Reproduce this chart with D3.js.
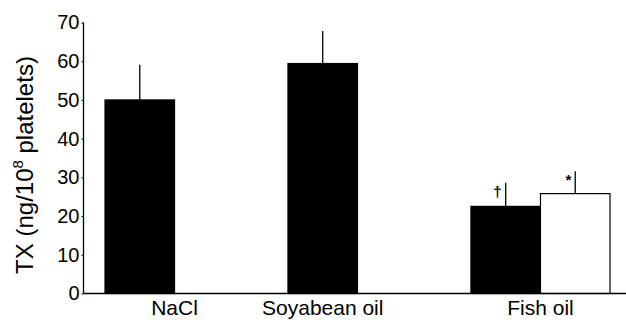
<!DOCTYPE html>
<html>
<head>
<meta charset="utf-8">
<script src="https://cdn.jsdelivr.net/npm/d3@7/dist/d3.min.js"></script>
<style>
  html, body { margin: 0; padding: 0; background: #fff; }
  svg { display: block; font-family: "Liberation Sans", Arial, Helvetica, sans-serif; }
</style>
</head>
<body>
<svg id="chart" width="626" height="320"></svg>
<script>
// Treatment groups shown along the x axis
const groups = ["NaCl", "Soyabean oil", "Fish oil"];
// One entry per bar: its group, its slot within the group, mean TX and upper error
const barGroups = ["NaCl", "Soyabean oil", "Fish oil", "Fish oil"];
const barSlots = ["first", "first", "first", "second"];
const barValues = [50, 59.4, 22.5, 25.8];
const barErrors = [9.1, 8.4, 6.1, 5.8];
const barMarks = ["", "", "\u2020", "*"];
const barFilled = [true, true, true, false];
// Y axis ticks
const yTicks = [0, 10, 20, 30, 40, 50, 60, 70];

const svg = d3.select("#chart");

const plot = { left: 83.5, right: 626, top: 22.5, bottom: 293.5 };

const y = d3.scaleLinear().domain([0, 70]).range([plot.bottom, plot.top]);

const x = d3.scaleBand()
  .domain(groups)
  .range([105, 610])
  .paddingInner(0.24)
  .paddingOuter(0);

const xSlot = d3.scaleBand()
  .domain(["first", "second"])
  .range([0, x.bandwidth()]);

const bars = barValues.map((v, i) => ({
  group: barGroups[i], slot: barSlots[i], value: v,
  err: barErrors[i], mark: barMarks[i], filled: barFilled[i]
}));

const barCenter = d => x(d.group) + xSlot(d.slot) + xSlot.bandwidth() / 2;

// Bars
svg.append("g").selectAll("rect")
  .data(bars)
  .join("rect")
  .attr("x", d => x(d.group) + xSlot(d.slot))
  .attr("y", d => y(d.value))
  .attr("width", xSlot.bandwidth())
  .attr("height", d => y(0) - y(d.value))
  .attr("fill", d => d.filled ? "#000" : "#fff")
  .attr("stroke", "#000")
  .attr("stroke-width", 1.2);

// Upper error lines
svg.append("g").selectAll("line")
  .data(bars)
  .join("line")
  .attr("x1", barCenter)
  .attr("x2", barCenter)
  .attr("y1", d => y(d.value))
  .attr("y2", d => y(d.value + d.err))
  .attr("stroke", "#000")
  .attr("stroke-width", 1.3);

// Significance marks beside the error lines
svg.append("g").selectAll("text")
  .data(bars.filter(d => d.mark))
  .join("text")
  .attr("x", d => barCenter(d) - 4)
  .attr("y", d => y(d.value + d.err) + 14)
  .attr("text-anchor", "end")
  .attr("font-size", 15)
  .attr("font-weight", "bold")
  .text(d => d.mark);

// Y axis
const yAxis = svg.append("g")
  .attr("transform", `translate(${plot.left},0)`)
  .call(d3.axisLeft(y).tickValues(yTicks).tickSize(2).tickPadding(2).tickFormat(d3.format("d")));
yAxis.select(".domain").attr("d", `M0,${plot.top}V${plot.bottom}`).attr("stroke-width", 1.3);
yAxis.selectAll(".tick line").attr("stroke-width", 1);
yAxis.selectAll(".tick text")
  .attr("font-size", 20)
  .attr("font-family", "'Liberation Sans', Arial, sans-serif")
  .attr("fill", "#000");

// X axis baseline
svg.append("line")
  .attr("x1", plot.left).attr("x2", plot.right)
  .attr("y1", y(0)).attr("y2", y(0))
  .attr("stroke", "#000").attr("stroke-width", 1.5);

// Group labels: the soyabean label sits under its single bar,
// the others under the middle of their group slot
const labelX = g => g === "Soyabean oil"
  ? x(g) + xSlot("first") + xSlot.bandwidth() / 2
  : x(g) + x.bandwidth() / 2;

svg.append("g").selectAll("text")
  .data(groups)
  .join("text")
  .attr("x", labelX)
  .attr("y", 315)
  .attr("text-anchor", "middle")
  .attr("font-size", 21)
  .text(g => g);

// Y axis title
const title = svg.append("text")
  .attr("transform", `translate(33,165) rotate(-90)`)
  .attr("text-anchor", "middle")
  .attr("font-size", 24);
title.append("tspan").text("TX (ng/10");
title.append("tspan").attr("font-size", 15).attr("dy", -10).text("8");
title.append("tspan").attr("dy", 10).text(" platelets)");
</script>
</body>
</html>
